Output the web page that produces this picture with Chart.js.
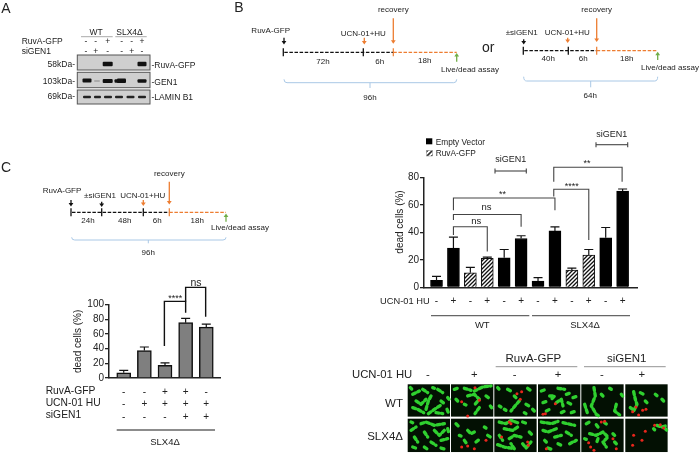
<!DOCTYPE html>
<html>
<head>
<meta charset="utf-8">
<script src="https://cdn.jsdelivr.net/npm/chart.js@4"></script>
<style>
    html, body { margin: 0; background: #fff; overflow: hidden; }
    #page { position: relative; width: 700px; height: 454px; filter: blur(0.35px); }
    canvas, svg { position: absolute; }
    text { font-family: "Liberation Sans", Arial, sans-serif; fill: #222; }
</style>
</head>
<body>
<div id="page">
    <canvas id="chartB" width="300" height="190" style="left:350px;top:125px"></canvas>
    <canvas id="chartC" width="158" height="150" style="left:72px;top:270px"></canvas>
    <svg id="notes" width="700" height="454" style="left:0;top:0"></svg>
</div>
<script>
// Grafico B
const signsB = ['-', '+', '-', '+', '-', '+', '-', '+', '-', '+', '-', '+'];
const emptyVector = [5, 28.5, null, null, 21.5, 35.5, 4.5, 41, null, null, 36, 70];
const ruvaGfp = [null, null, 10.5, 21, null, null, null, null, 12.5, 23.5, null, null];
const errTopB = [8, 36.5, 14.5, 22, 27.5, 37.5, 7, 44, 14, 27.5, 43.5, 71.5];
// x inicio, x fim, topo, perna esq, perna dir, rotulo, x rotulo, y rotulo
const bracketsB = [
    [1, 3, 44, 38, 26, 'ns', 2.35, 48],
    [1, 5, 53, 49, 44, 'ns', 2.95, 58],
    [1, 7, 65, 56, 56, '**', 3.9, 67.5],
    [6.93, 9, 71.3, 66, 34.4, '****', 8, 73],
    [6.93, 10.97, 87.3, 76.8, 76.8, '**', 8.9, 90]
];

// Grafico C
const ruvaRow = ['-', '-', '+', '+', '-'];
const ucnRow = ['-', '+', '+', '+', '+'];
const sigenRow = ['-', '-', '-', '+', '+'];
const valuesC = [7, 37.5, 17.3, 75.5, 69.5];
const errTopC = [10.5, 42.3, 20.5, 81.4, 73.6];
const bracketsC = [
    [1.97, 3, 104.5, 43.6, 89, '****', 2.5, 109],
    [3, 3.97, 123.6, 104.5, 83.6, 'ns', 3.5, 129]
];

function hatchPattern() {
    const c = document.createElement('canvas');
    c.width = c.height = 4;
    const g = c.getContext('2d');
    g.fillStyle = '#fff';
    g.fillRect(0, 0, 4, 4);
    g.strokeStyle = '#111';
    g.lineWidth = 1.3;
    g.beginPath();
    g.moveTo(-1, 1); g.lineTo(1, -1);
    g.moveTo(0, 4); g.lineTo(4, 0);
    g.moveTo(3, 5); g.lineTo(5, 3);
    g.stroke();
    return g.createPattern(c, 'repeat');
}

// barras de erro e colchetes, sempre pelas escalas do grafico
const errorBars = {
    id: 'errorBars',
    afterDatasetsDraw(chart, args, opts) {
        const ctx = chart.ctx, x = chart.scales.x, y = chart.scales.y;
        ctx.save();
        ctx.strokeStyle = '#111';
        ctx.lineWidth = 1.2;
        opts.tops.forEach((top, i) => {
            const px = x.getPixelForValue(i);
            ctx.beginPath();
            ctx.moveTo(px, y.getPixelForValue(opts.means[i]));
            ctx.lineTo(px, y.getPixelForValue(top));
            ctx.moveTo(px - opts.cap, y.getPixelForValue(top));
            ctx.lineTo(px + opts.cap, y.getPixelForValue(top));
            ctx.stroke();
        });
        ctx.strokeStyle = opts.bracketColor;
        ctx.lineWidth = opts.bracketWidth;
        ctx.fillStyle = '#222';
        ctx.textAlign = 'center';
        ctx.textBaseline = 'middle';
        opts.brackets.forEach(b => {
            const x0 = x.getPixelForValue(b[0]), x1 = x.getPixelForValue(b[1]);
            ctx.beginPath();
            ctx.moveTo(x0, y.getPixelForValue(b[3]));
            ctx.lineTo(x0, y.getPixelForValue(b[2]));
            ctx.lineTo(x1, y.getPixelForValue(b[2]));
            ctx.lineTo(x1, y.getPixelForValue(b[4]));
            ctx.stroke();
            ctx.font = (b[5] === 'ns' ? opts.nsSize : 9) + 'px "Liberation Sans"';
            ctx.fillText(b[5], x.getPixelForValue(b[6]), y.getPixelForValue(b[7]));
        });
        ctx.restore();
    }
};

function toPoints(list) {
    return list.map((v, i) => ({ x: i, y: v }));
}

function axisOptions(count, leftWidth, bottomHeight, xMin, xMax, yMax, step, tickCb, lineH, extraY) {
    return {
        x: {
            type: 'linear', bounds: 'data', offset: false, min: xMin, max: xMax,
            afterBuildTicks(s) { s.ticks = Array.from({ length: count }, (_, i) => ({ value: i })); },
            afterFit(s) { s.height = bottomHeight; },
            grid: { display: false, drawTicks: false },
            border: { color: '#222', width: 1.5 },
            ticks: {
                autoSkip: false, maxRotation: 0, padding: 8,
                color: '#222', font: { family: 'Liberation Sans', size: 10, lineHeight: lineH },
                callback: tickCb
            }
        },
        y: Object.assign({
            min: 0, max: yMax,
            afterFit(s) { s.width = leftWidth; },
            grid: { drawOnChartArea: false, tickLength: 4, color: '#222', lineWidth: 1.3 },
            border: { color: '#222', width: 1.5 },
            ticks: {
                stepSize: step, autoSkip: false, padding: 1, color: '#222',
                font: { family: 'Liberation Sans', size: 10 }
            }
        }, extraY)
    };
}

new Chart(document.getElementById('chartB'), {
    type: 'bar',
    data: {
        labels: signsB,
        datasets: [
            { label: 'Empty Vector', data: toPoints(emptyVector), backgroundColor: '#000', borderColor: '#000', borderWidth: 1, barThickness: 12, grouped: false },
            { label: 'RuvA-GFP', data: toPoints(ruvaGfp), backgroundColor: hatchPattern(), borderColor: '#111', borderWidth: 1, barThickness: 12, grouped: false }
        ]
    },
    options: {
        responsive: false,
        animation: false,
        layout: { padding: { top: 52.3, right: 13 } },
        plugins: {
            legend: { display: false },
            tooltip: { enabled: false },
            errorBars: {
                tops: errTopB,
                means: emptyVector.map((v, i) => v === null ? ruvaGfp[i] : v),
                cap: 4.5, brackets: bracketsB, bracketColor: '#444', bracketWidth: 1.1, nsSize: 9.5
            }
        },
        scales: axisOptions(12, 74, 27.7, -0.74, 11.85, 80, 20, v => signsB[v], 1.2, {})
    },
    plugins: [errorBars]
});

new Chart(document.getElementById('chartC'), {
    type: 'bar',
    data: {
        labels: ucnRow,
        datasets: [
            { label: 'dead cells (%)', data: toPoints(valuesC), backgroundColor: '#7f7f7f', borderColor: '#111', borderWidth: 1.5, barThickness: 14, grouped: false }
        ]
    },
    options: {
        responsive: false,
        animation: false,
        layout: { padding: { top: 34.7, right: 10 } },
        plugins: {
            legend: { display: false },
            tooltip: { enabled: false },
            errorBars: {
                tops: errTopC, means: valuesC, cap: 4.5,
                brackets: bracketsC, bracketColor: '#111', bracketWidth: 1.4, nsSize: 10.5
            }
        },
        scales: axisOptions(5, 37, 42, -0.714, 4.665, 100, 20,
            v => [ruvaRow[v], ucnRow[v], sigenRow[v]], 1.23,
            { title: { display: true, text: 'dead cells (%)', color: '#222', padding: 0, font: { family: 'Liberation Sans', size: 10 } } })
    },
    plugins: [errorBars]
});

// Tudo o que nao e grafico: western blot, esquemas, micrografias
const svg = document.getElementById('notes');
let out = '';

function txt(x, y, s, size, anchor) {
    out += `<text x="${x}" y="${y}" font-size="${size}" text-anchor="${anchor || 'middle'}" dominant-baseline="central">${s}</text>`;
}
function line(x0, y0, x1, y1, color, w, dash) {
    out += `<line x1="${x0}" y1="${y0}" x2="${x1}" y2="${y1}" stroke="${color}" stroke-width="${w}"${dash ? ` stroke-dasharray="${dash}"` : ''}/>`;
}
function arrow(x, y0, y1, color) {
    const d = y1 > y0 ? 1 : -1;
    line(x, y0, x, y1 - d * 2, color, 1.3);
    out += `<polygon points="${x - 2.4},${y1 - d * 3.5} ${x + 2.4},${y1 - d * 3.5} ${x},${y1}" fill="${color}"/>`;
}

const ORANGE = '#ed7d31', GREEN = '#70ad47', BRACE = '#a9c8e6';

function brace(x0, x1, y0, y1, xm, y2) {
    out += `<path d="M${x0} ${y0} Q${x0} ${y1} ${x0 + 3} ${y1} L${x1 - 3} ${y1} Q${x1} ${y1} ${x1} ${y0}" fill="none" stroke="${BRACE}" stroke-width="1"/>`;
    line(xm, y1, xm, y2, BRACE, 1);
}

// Painel A
txt(6, 8, 'A', 14);
txt(239, 7, 'B', 14);
txt(6, 167, 'C', 14);
txt(96, 32, 'WT', 8.5);
txt(129.5, 32, 'SLX4Δ', 8.5);
line(81, 36.7, 112.7, 36.7, '#aaa', 1);
line(115.3, 36.7, 146.7, 36.7, '#aaa', 1);
txt(21.7, 41, 'RuvA-GFP', 8.5, 'start');
txt(21.7, 50.7, 'siGEN1', 8.5, 'start');
const laneX = [86, 95.7, 107.7, 121.7, 131.7, 142];
['-', '-', '+', '-', '-', '+'].forEach((s, i) => txt(laneX[i], 41, s, 8.5));
['-', '+', '-', '-', '+', '-'].forEach((s, i) => txt(laneX[i], 50.7, s, 8.5));
[[55, 15], [72.3, 15.4], [90, 14]].forEach(r => {
    out += `<rect x="77.3" y="${r[0]}" width="72.7" height="${r[1]}" fill="#cfcfcf" stroke="#555" stroke-width="1"/>`;
});
[[107.7, 64, 10, 4.5, '#111'], [142, 64, 9, 4.5, '#111'],
 [87, 80.5, 9, 4, '#111'], [97, 81, 6, 2, '#aaa'], [107.7, 81, 10, 4, '#111'], [118, 81, 7, 3.5, '#111'],
 [121.5, 80.7, 9, 4.5, '#111'], [142, 81, 9, 3.5, '#111'],
 [87, 97, 8, 2.6, '#222'], [97.5, 97, 7, 2.6, '#222'], [108, 97, 8, 2.6, '#222'], [119, 97, 8, 2.6, '#222'],
 [130.5, 97, 8, 2.6, '#222'], [142, 97, 8, 2.6, '#222']].forEach(b => {
    out += `<rect x="${b[0] - b[2] / 2}" y="${b[1] - b[3] / 2}" width="${b[2]}" height="${b[3]}" rx="1" fill="${b[4]}"/>`;
});
txt(75, 63.7, '58kDa-', 8.5, 'end');
txt(75, 80.7, '103kDa-', 8.5, 'end');
txt(75, 96, '69kDa-', 8.5, 'end');
txt(151.5, 64.5, '-RuvA-GFP', 8.5, 'start');
txt(151.5, 82, '-GEN1', 8.5, 'start');
txt(151.5, 97, '-LAMIN B1', 8.5, 'start');

// Esquema: [inicio, marcas pretas, recuperacao, fim, y]
function timeline(x0, ticks, xRec, xEnd, y) {
    line(x0 + 1, y, xRec, y, '#111', 1.3, '3.5 1.6');
    line(xRec, y, xEnd, y, ORANGE, 1.2, '3.5 1.6');
    [x0].concat(ticks).forEach(t => line(t, y - 4, t, y + 4, '#111', 1.3));
    line(xRec, y - 4, xRec, y + 4, ORANGE, 1.2);
}

// Painel B esquerda
timeline(283.3, [363.3], 393.3, 456.7, 52.3);
arrow(284, 37.7, 44.5, '#111');
arrow(364.3, 37.7, 44.5, ORANGE);
arrow(393.3, 18.3, 43.7, ORANGE);
arrow(456.7, 61.7, 52.9, GREEN);
txt(270.7, 30, 'RuvA-GFP', 8);
txt(363.3, 33.3, 'UCN-01+HU', 8);
txt(393.3, 9, 'recovery', 8);
txt(323, 61, '72h', 8);
txt(379.7, 61, '6h', 8);
txt(424.7, 60.3, '18h', 8);
txt(470, 69.7, 'Live/dead assay', 8);
brace(284, 456.7, 79.3, 82.7, 370, 88);
txt(370, 97.7, '96h', 8);
txt(488.3, 47, 'or', 14);

// Painel B direita
timeline(523.3, [568.3], 596.7, 657.7, 50.7);
arrow(523.7, 39.3, 44.5, '#111');
arrow(567.7, 37.7, 42.9, ORANGE);
arrow(596.7, 18.3, 42, ORANGE);
arrow(657.7, 60, 51.7, GREEN);
txt(521.7, 32.3, '±siGEN1', 8);
txt(567.3, 32.3, 'UCN-01+HU', 8);
txt(596.7, 9, 'recovery', 8);
txt(548.3, 58.3, '40h', 8);
txt(583.3, 58.3, '6h', 8);
txt(626.7, 58.3, '18h', 8);
txt(670, 67.3, 'Live/dead assay', 8);
brace(523.7, 657.7, 76.7, 81, 590.7, 87.3);
txt(590.3, 95, '64h', 8);

// Painel C esquema
timeline(71, [101.7, 143.3], 169.3, 226, 212.3);
arrow(71, 200, 206.5, '#111');
arrow(101.7, 201.7, 207, '#111');
arrow(143.3, 200, 205.9, ORANGE);
arrow(169.3, 181.7, 204.6, ORANGE);
arrow(226, 221.7, 213.5, GREEN);
txt(62, 190.7, 'RuvA-GFP', 8);
txt(100, 195.3, '±siGEN1', 8);
txt(142.7, 195.3, 'UCN-01+HU', 8);
txt(169.3, 173.3, 'recovery', 8);
txt(88, 220, '24h', 8);
txt(124.7, 220, '48h', 8);
txt(157.3, 220, '6h', 8);
txt(197.3, 220, '18h', 8);
txt(240, 227.3, 'Live/dead assay', 8);
brace(71.7, 226, 237.3, 240, 148.3, 243.3);
txt(148.3, 252.7, '96h', 8);

// Rotulos do grafico C
txt(45.7, 390, 'RuvA-GFP', 10.3, 'start');
txt(45.7, 402.3, 'UCN-01 HU', 10.3, 'start');
txt(45.7, 414.7, 'siGEN1', 10.3, 'start');
line(116.7, 430, 215, 430, '#666', 1.3);
txt(165, 441, 'SLX4Δ', 9.5);

// Rotulos do grafico B
out += `<text transform="translate(399.3 222) rotate(-90)" font-size="10" text-anchor="middle" dominant-baseline="central">dead cells (%)</text>`;
txt(380, 301, 'UCN-01 HU', 9.3, 'start');
line(431, 315.7, 529.3, 315.7, '#666', 1.3);
line(532, 315.7, 630, 315.7, '#666', 1.3);
txt(482.3, 324.7, 'WT', 9.5);
txt(585, 324.7, 'SLX4Δ', 9.5);
out += `<rect x="426" y="138.3" width="6.3" height="6" fill="#000"/>`;
txt(435.7, 141.7, 'Empty Vector', 8.3, 'start');
out += `<defs><pattern id="hatch" width="3.4" height="3.4" patternUnits="userSpaceOnUse" patternTransform="rotate(45)"><rect width="3.4" height="3.4" fill="#fff"/><rect width="1.6" height="3.4" fill="#222"/></pattern></defs>`;
out += `<rect x="426.5" y="150.5" width="6" height="5.5" fill="url(#hatch)" stroke="#888" stroke-width="0.5"/>`;
txt(435.7, 153, 'RuvA-GFP', 8.3, 'start');
txt(510.7, 159.3, 'siGEN1', 9);
txt(611.7, 133.7, 'siGEN1', 9);
[[495, 526.3, 171], [596, 627.7, 144.7]].forEach(r => {
    line(r[0], r[2], r[1], r[2], '#444', 1.1);
    line(r[0], r[2] - 2.5, r[0], r[2] + 2.5, '#444', 1.1);
    line(r[1], r[2] - 2.5, r[1], r[2] + 2.5, '#444', 1.1);
});

// Micrografias: coordenadas locais na escala 3x do painel
const panelX = [407.7, 451, 494.3, 538, 581.3, 625.3];
const panelY = [384.3, 418.7];
const cellsTop = [
    [['15,30 35,20', '45,15 60,25', '25,50 40,60 55,45', '70,35 62,50 55,75', '90,15 105,25', '100,50 110,58', '15,70 30,75 48,85', '62,88 85,72 100,62', '85,85 105,88', '118,75 122,85', '75,10 80,12', '8,10 12,14', '120,40 124,45'], []],
    [['10,15 25,10', '40,12 60,18', '50,35 70,30 85,45 72,60', '70,20 95,8 120,5', '85,70 72,88', '15,45 20,50', '105,35 112,40', '118,65 122,70', '40,60 45,62'], [[72, 10], [32, 52], [85, 48], [50, 95]]],
    [['10,10 14,14', '40,15 50,20', '100,12 108,18', '60,35 65,40', '75,50 62,65 50,80', '15,65 20,68', '30,75 35,78', '95,60 105,65', '115,75 120,80', '90,85 95,88'], [[68, 28], [82, 22], [78, 45]]],
    [['10,20 25,15', '35,35 50,35 40,45', '60,12 80,15', '85,30 100,25', '15,55 30,50', '55,55 70,45 75,65', '90,55 100,60', '105,40 120,35', '25,80 35,75', '70,85 85,78', '100,85 115,80'], [[52, 58], [15, 90], [22, 88]]],
    [['38,10 42,35 30,65 45,90 52,95', '10,60 18,85', '105,60 100,80 115,92', '120,30 124,35', '85,12 90,15', '60,30 65,35'], []],
    [['25,22 30,45 35,60 25,80', '45,25 55,30', '60,50 65,55', '110,45 115,50', '90,30 95,34', '15,70 22,75'], [[32, 68], [22, 82], [52, 78], [62, 75], [40, 92]]]
];
const cellsBottom = [
    [['10,35 25,25', '40,15 55,10 80,20 110,15', '20,55 30,70', '50,40 60,55', '80,35 95,50 110,35', '70,70 85,80', '100,65 120,60', '15,85 30,90', '50,85 60,92', '100,88 115,92', '120,30 124,45', '10,10 15,12'], []],
    [['15,15 22,22', '50,35 60,45 70,40', '40,65 45,72', '75,70 85,62', '110,50 118,55', '25,50 30,52', '100,25 105,28'], [[32, 85], [50, 82], [105, 65], [70, 90]]],
    [['15,10 35,15 50,5 70,12', '30,30 55,35 70,25', '85,10 100,15', '15,50 25,65', '45,60 60,50 80,55', '10,78 30,85 60,90 50,75', '85,75 95,88 110,70', '105,40 115,50'], [[45, 10], [22, 55], [100, 70], [102, 80], [50, 15]]],
    [['10,10 40,15 60,8', '75,12 110,20', '15,35 30,40 55,30', '50,55 70,50', '20,65 25,70', '85,40 100,50', '60,75 70,80', '95,75 115,65', '30,88 40,92'], [[25, 90]]],
    [['15,15 25,10', '45,18 50,25', '70,12 75,16', '25,45 45,50 65,40 80,55 65,70 75,85', '50,60 45,75', '95,45 100,50', '10,60 15,62', '100,70 105,75'], [[22, 72], [28, 85], [38, 95], [60, 10], [70, 8], [95, 60], [105, 90]]],
    [['95,20 110,25 120,22', '85,30 88,33', '120,30 124,34'], [[25, 50], [50, 65], [22, 80], [88, 20], [105, 18], [115, 28], [60, 38]]]
];
[cellsTop, cellsBottom].forEach((row, r) => {
    row.forEach((cell, c) => {
        out += `<g transform="translate(${panelX[c]} ${panelY[r]}) scale(0.3333)">`;
        out += `<rect width="127" height="${r ? 100 : 97}" fill="#031003"/>`;
        cell[0].forEach(p => {
            out += `<polyline points="${p}" fill="none" stroke="#2fd02f" stroke-width="10" stroke-dasharray="9 8" stroke-linecap="round" stroke-linejoin="round"/>`;
        });
        cell[1].forEach(d => {
            out += `<circle cx="${d[0]}" cy="${d[1]}" r="4.5" fill="#e8261c"/>`;
        });
        out += '</g>';
    });
});
line(495.7, 366.7, 577.3, 366.7, '#888', 0.9);
line(584, 366.7, 665.7, 366.7, '#888', 0.9);
txt(533.3, 357.7, 'RuvA-GFP', 11.5);
txt(626.7, 357.7, 'siGEN1', 11.5);
txt(352, 374.3, 'UCN-01 HU', 11.3, 'start');
['-', '+', '-', '+', '-', '+'].forEach((s, i) => txt([428, 474.3, 514.7, 558, 602, 641.7][i], 374.3, s, 11.3));
txt(403, 402.7, 'WT', 11.5, 'end');
txt(403, 436, 'SLX4Δ', 11.5, 'end');

svg.innerHTML = out;
</script>
</body>
</html>
